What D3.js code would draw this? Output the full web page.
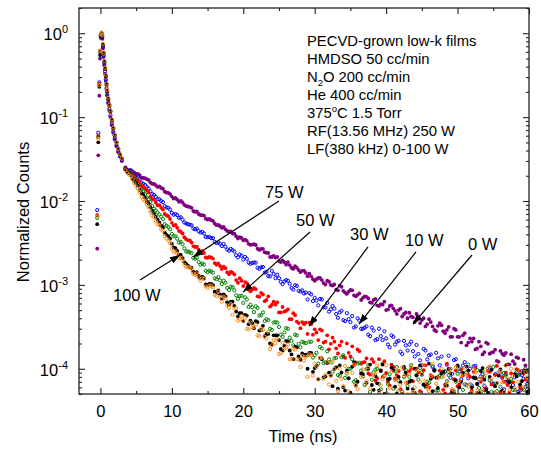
<!DOCTYPE html>
<html lang="en">
<head>
<meta charset="utf-8">
<script src="https://cdnjs.cloudflare.com/ajax/libs/d3/7.8.5/d3.min.js"></script>
<style>
  body { margin: 0; background: #fff; }
  svg text { font-family: "Liberation Sans", Arial, sans-serif; fill: #000; }
  .axis path { display: none; }
  .axis line { stroke: #222; stroke-width: 1.1; }
</style>
</head>
<body>
<svg id="chart" width="541" height="450"></svg>
<script>

// sampling grid (ns): fine steps round the laser peak, then the tail
var peakTimes = [-0.45, -0.3, -0.15, -0.05, 0.05, 0.15, 0.25, 0.35, 0.45, 0.55, 0.65, 0.75,
                 0.85, 0.95, 1.1, 1.25, 1.4, 1.6, 1.8, 2.0, 2.25, 2.5, 2.75, 3.0];
var tailTimes = d3.range(3.5, 60.001, 0.5);
var times = peakTimes.concat(tailTimes);
// the in-between channels of the tail
var midTimes = d3.range(3.75, 60, 0.5);

// normalized counts, one list per LF power
var counts0W = [
  2.7e-3, 3.5e-2, 0.18, 0.5, 0.88, 0.95, 0.86, 0.66, 0.52, 0.41, 0.33, 0.27,
  0.21, 0.18, 0.145, 0.12, 0.10, 0.08, 0.065, 0.054, 0.045, 0.038, 0.034, 0.030,
  2.52e-2, 2.31e-2, 2.26e-2, 2.11e-2, 2.04e-2, 1.88e-2, 1.82e-2, 1.66e-2, 1.60e-2, 1.47e-2,
  1.43e-2, 1.29e-2, 1.25e-2, 1.13e-2, 1.09e-2, 9.8e-3, 9.6e-3, 8.7e-3, 8.5e-3, 7.6e-3,
  7.5e-3, 6.8e-3, 6.7e-3, 6.0e-3, 5.9e-3, 5.4e-3, 5.2e-3, 4.8e-3, 4.6e-3, 4.3e-3,
  4.1e-3, 3.8e-3, 3.7e-3, 3.4e-3, 3.35e-3, 3.0e-3, 3.05e-3, 2.7e-3, 2.68e-3, 2.45e-3,
  2.4e-3, 2.15e-3, 2.12e-3, 1.92e-3, 1.96e-3, 1.74e-3, 1.72e-3, 1.55e-3, 1.6e-3, 1.42e-3,
  1.48e-3, 1.27e-3, 1.26e-3, 1.12e-3, 1.21e-3, 1.14e-3, 1.01e-3, 1.09e-3, 9.8e-4, 8.8e-4,
  9.8e-4, 8.5e-4, 7.8e-4, 8.7e-4, 7.5e-4, 7.6e-4, 6.6e-4, 7.3e-4, 6.9e-4, 6.1e-4,
  6.8e-4, 5.6e-4, 5.8e-4, 5.0e-4, 5.6e-4, 5.25e-4, 4.5e-4, 5.2e-4, 4.5e-4, 4.0e-4,
  4.2e-4, 3.6e-4, 4.2e-4, 3.8e-4, 3.2e-4, 3.9e-4, 3.2e-4, 2.8e-4, 3.5e-4, 2.8e-4,
  2.9e-4, 2.4e-4, 3.0e-4, 2.4e-4, 2.05e-4, 2.65e-4, 2.05e-4, 2.1e-4, 1.7e-4, 2.1e-4,
  1.48e-4, 2.05e-4, 1.51e-4, 1.58e-4, 1.24e-4, 1.63e-4, 1.45e-4, 1.13e-4, 1.49e-4, 1.14e-4,
  1.34e-4, 9.4e-5, 1.1e-4, 7.8e-5
];
var counts0WMid = [
  2.37e-2, 2.35e-2, 2.18e-2, 2.11e-2, 1.9e-2, 1.87e-2, 1.78e-2, 1.6e-2, 1.54e-2, 1.49e-2,
  1.40e-2, 1.26e-2, 1.21e-2, 1.07e-2, 1.04e-2, 1.0e-2, 8.98e-3, 8.6e-3, 8.3e-3, 7.4e-3,
  7.0e-3, 6.8e-3, 6.15e-3, 6.1e-3, 5.8e-3, 5.15e-3, 5.0e-3, 4.9e-3, 4.4e-3, 4.35e-3,
  4.08e-3, 3.57e-3, 3.62e-3, 3.47e-3, 3.09e-3, 3.02e-3, 2.99e-3, 2.61e-3, 2.69e-3, 2.41e-3,
  2.15e-3, 2.22e-3, 2.15e-3, 1.87e-3, 1.86e-3, 1.87e-3, 1.6e-3, 1.67e-3, 1.5e-3, 1.47e-3,
  1.39e-3, 1.36e-3, 1.17e-3, 1.17e-3, 1.21e-3, 1.05e-3, 1.12e-3, 1.0e-3, 1.01e-3, 8.6e-4,
  9.5e-4, 8.1e-4, 8.3e-4, 8.6e-4, 7.3e-4, 7.9e-4, 7.0e-4, 7.2e-4, 6.2e-4, 6.6e-4,
  5.7e-4, 5.9e-4, 6.3e-4, 5.1e-4, 5.7e-4, 4.9e-4, 5.0e-4, 4.2e-4, 4.7e-4, 4.65e-4,
  4.1e-4, 4.5e-4, 3.5e-4, 4.0e-4, 3.4e-4, 3.6e-4, 2.9e-4, 3.25e-4, 3.3e-4, 2.65e-4,
  3.15e-4, 2.4e-4, 2.9e-4, 2.4e-4, 2.5e-4, 1.9e-4, 2.3e-4, 2.3e-4, 1.75e-4, 1.85e-4,
  1.58e-4, 1.98e-4, 1.56e-4, 1.69e-4, 1.21e-4, 1.51e-4, 1.54e-4, 1.13e-4, 1.23e-4, 1.37e-4,
  9.0e-5, 1.28e-4, 9.5e-5
];
var counts10W = [
  7.8e-3, 6.5e-2, 0.26, 0.6, 0.92, 0.98, 0.88, 0.69, 0.54, 0.43, 0.35, 0.28,
  0.22, 0.185, 0.15, 0.125, 0.105, 0.084, 0.067, 0.056, 0.046, 0.039, 0.034, 0.031,
  2.43e-2, 2.3e-2, 2.1e-2, 1.98e-2, 1.83e-2, 1.6e-2, 1.47e-2, 1.3e-2, 1.18e-2, 1.05e-2,
  1.0e-2, 8.7e-3, 8.3e-3, 7.2e-3, 7.0e-3, 6.3e-3, 6.0e-3, 5.4e-3, 5.2e-3, 4.7e-3,
  4.7e-3, 4.2e-3, 4.1e-3, 3.7e-3, 3.6e-3, 3.25e-3, 3.2e-3, 2.9e-3, 2.85e-3, 2.55e-3,
  2.6e-3, 2.25e-3, 2.3e-3, 2.0e-3, 2.05e-3, 1.78e-3, 1.85e-3, 1.6e-3, 1.62e-3, 1.4e-3,
  1.28e-3, 1.47e-3, 1.2e-3, 1.2e-3, 1.02e-3, 1.14e-3, 1.03e-3, 8.8e-4, 9.7e-4, 8.3e-4,
  7.9e-4, 6.7e-4, 7.7e-4, 7.0e-4, 5.7e-4, 6.7e-4, 5.4e-4, 4.8e-4, 5.6e-4, 4.5e-4,
  4.7e-4, 3.8e-4, 4.6e-4, 3.6e-4, 3.1e-4, 4.0e-4, 3.0e-4, 3.1e-4, 2.55e-4, 3.1e-4,
  2.2e-4, 3.0e-4, 2.2e-4, 2.3e-4, 1.8e-4, 2.4e-4, 2.1e-4, 1.6e-4, 2.15e-4, 1.65e-4,
  2.1e-4, 1.4e-4, 1.5e-4, 1.1e-4, 1.65e-4, 1.45e-4, 1.05e-4, 1.55e-4, 1.1e-4, 8.8e-5,
  1.12e-4, 7.8e-5, 1.27e-4, 1.09e-4, 7.5e-5, 1.2e-4, 7.7e-5, 6.3e-5, 1.08e-4, 7.5e-5,
  8.6e-5, 5.8e-5, 1.03e-4, 6.6e-5, 4.9e-5, 9.0e-5, 5.7e-5, 6.6e-5, 4.4e-5, 7.9e-5,
  5.3e-5, 8.4e-5, 6.0e-5, 7.2e-5
];
var counts10WMid = [
  2.33e-2, 2.27e-2, 2.06e-2, 1.93e-2, 1.66e-2, 1.55e-2, 1.41e-2, 1.21e-2, 1.12e-2, 1.05e-2,
  9.7e-3, 8.4e-3, 7.9e-3, 6.85e-3, 6.8e-3, 6.4e-3, 5.55e-3, 5.3e-3, 5.15e-3, 4.6e-3,
  4.38e-3, 4.27e-3, 3.73e-3, 3.74e-3, 3.61e-3, 3.16e-3, 3.09e-3, 3.07e-3, 2.64e-3, 2.69e-3,
  2.5e-3, 2.13e-3, 2.22e-3, 2.15e-3, 1.84e-3, 1.82e-3, 1.84e-3, 1.55e-3, 1.63e-3, 1.43e-3,
  1.26e-3, 1.35e-3, 1.32e-3, 1.09e-3, 1.1e-3, 1.12e-3, 9.2e-4, 9.9e-4, 8.5e-4, 8.6e-4,
  8.1e-4, 8.0e-4, 6.4e-4, 6.5e-4, 6.8e-4, 5.4e-4, 6.1e-4, 5.1e-4, 5.2e-4, 4.05e-4,
  4.9e-4, 3.7e-4, 3.9e-4, 4.25e-4, 3.2e-4, 3.75e-4, 3.0e-4, 3.2e-4, 2.45e-4, 2.85e-4,
  2.25e-4, 2.45e-4, 2.8e-4, 1.95e-4, 2.5e-4, 1.95e-4, 2.15e-4, 1.5e-4, 1.9e-4, 1.95e-4,
  1.62e-4, 1.92e-4, 1.26e-4, 1.73e-4, 1.29e-4, 1.48e-4, 9.5e-5, 1.33e-4, 1.4e-4, 9.3e-5,
  1.43e-4, 8.7e-5, 1.3e-4, 9.3e-5, 1.09e-4, 6.4e-5, 1.0e-4, 1.07e-4, 6.6e-5, 8.1e-5,
  6.2e-5, 1.01e-4, 7.0e-5, 8.6e-5, 4.6e-5, 7.8e-5, 8.6e-5, 4.9e-5, 6.4e-5, 8.4e-5,
  5.5e-5, 7.6e-5, 6.6e-5
];
var counts30W = [
  6.8e-3, 6.0e-2, 0.25, 0.62, 0.95, 1.0, 0.92, 0.72, 0.57, 0.45, 0.37, 0.30,
  0.24, 0.20, 0.16, 0.135, 0.115, 0.09, 0.072, 0.06, 0.049, 0.041, 0.036, 0.032,
  2.42e-2, 2.21e-2, 2.06e-2, 1.83e-2, 1.68e-2, 1.46e-2, 1.34e-2, 1.13e-2, 1.04e-2, 8.9e-3,
  8.3e-3, 7.0e-3, 6.6e-3, 5.5e-3, 5.2e-3, 4.4e-3, 4.1e-3, 3.5e-3, 3.4e-3, 2.9e-3,
  2.85e-3, 2.45e-3, 2.4e-3, 2.1e-3, 2.12e-3, 1.82e-3, 1.8e-3, 1.55e-3, 1.58e-3, 1.34e-3,
  1.4e-3, 1.14e-3, 1.2e-3, 9.7e-4, 1.05e-3, 8.4e-4, 9.2e-4, 7.3e-4, 8.0e-4, 6.4e-4,
  7.3e-4, 5.8e-4, 5.8e-4, 4.7e-4, 5.45e-4, 4.9e-4, 3.9e-4, 4.6e-4, 3.65e-4, 3.05e-4,
  3.4e-4, 2.6e-4, 3.4e-4, 2.95e-4, 2.2e-4, 2.85e-4, 2.1e-4, 1.7e-4, 2.35e-4, 1.75e-4,
  1.9e-4, 1.4e-4, 2.0e-4, 1.4e-4, 1.1e-4, 1.7e-4, 1.15e-4, 1.2e-4, 8.8e-5, 1.3e-4,
  7.2e-5, 1.3e-4, 8.0e-5, 8.9e-5, 6.3e-5, 1.05e-4, 8.4e-5, 5.7e-5, 1.0e-4, 6.8e-5,
  1.0e-4, 5.2e-5, 9.0e-5, 4.6e-5, 1.1e-4, 6.0e-5, 8.0e-5, 4.8e-5, 9.5e-5, 5.6e-5,
  1.15e-4, 5.0e-5, 7.5e-5, 6.2e-5, 9.8e-5, 4.5e-5, 8.5e-5, 5.5e-5, 1.02e-4, 4.9e-5,
  7.8e-5, 5.8e-5, 9.2e-5, 4.7e-5, 1.08e-4, 5.3e-5, 7.0e-5, 6.4e-5, 8.8e-5, 4.4e-5,
  9.6e-5, 5.7e-5, 7.4e-5, 5.1e-5
];
var counts30WMid = [
  2.28e-2, 2.2e-2, 1.94e-2, 1.79e-2, 1.52e-2, 1.42e-2, 1.26e-2, 1.06e-2, 9.6e-3, 8.9e-3,
  7.9e-3, 6.75e-3, 6.1e-3, 5.1e-3, 4.8e-3, 4.3e-3, 3.7e-3, 3.4e-3, 3.2e-3, 2.83e-3,
  2.63e-3, 2.52e-3, 2.12e-3, 2.16e-3, 2.06e-3, 1.74e-3, 1.68e-3, 1.65e-3, 1.41e-3, 1.43e-3,
  1.33e-3, 1.06e-3, 1.12e-3, 1.08e-3, 8.8e-4, 8.8e-4, 8.9e-4, 7.2e-4, 7.7e-4, 6.6e-4,
  5.5e-4, 6.3e-4, 6.2e-4, 4.7e-4, 4.8e-4, 5.1e-4, 3.9e-4, 4.35e-4, 3.5e-4, 3.6e-4,
  3.55e-4, 3.55e-4, 2.55e-4, 2.7e-4, 2.95e-4, 2.05e-4, 2.5e-4, 1.98e-4, 2.1e-4, 1.52e-4,
  2.1e-4, 1.35e-4, 1.55e-4, 1.85e-4, 1.19e-4, 1.62e-4, 1.19e-4, 1.33e-4, 8.5e-5, 1.2e-4,
  7.7e-5, 9.6e-5, 1.23e-4, 7.0e-5, 1.12e-4, 7.6e-5, 9.4e-5, 5.0e-5, 8.5e-5, 9.3e-5,
  7.1e-5, 1.0e-4, 5.4e-5, 9.6e-5, 6.5e-5, 8.4e-5, 4.3e-5, 8.0e-5, 9.2e-5, 5.1e-5,
  1.0e-4, 5.5e-5, 9.5e-5, 6.5e-5, 8.3e-5, 4.4e-5, 8.0e-5, 9.2e-5, 5.2e-5, 7.0e-5,
  5.5e-5, 9.4e-5, 6.5e-5, 8.4e-5, 4.3e-5, 8.0e-5, 9.0e-5, 5.2e-5, 6.9e-5, 9.9e-5,
  6.0e-5, 8.8e-5, 5.3e-5
];
var counts50W = [
  6.3e-3, 5.8e-2, 0.24, 0.6, 0.96, 1.0, 0.93, 0.73, 0.58, 0.46, 0.38, 0.31,
  0.245, 0.20, 0.165, 0.138, 0.117, 0.092, 0.073, 0.061, 0.05, 0.042, 0.036, 0.032,
  2.37e-2, 2.21e-2, 1.93e-2, 1.76e-2, 1.49e-2, 1.31e-2, 1.1e-2, 9.7e-3, 8.1e-3, 7.3e-3,
  6.5e-3, 5.3e-3, 4.9e-3, 4.05e-3, 3.8e-3, 3.2e-3, 3.05e-3, 2.5e-3, 2.45e-3, 2.1e-3,
  2.1e-3, 1.74e-3, 1.75e-3, 1.42e-3, 1.45e-3, 1.2e-3, 1.24e-3, 1.02e-3, 1.06e-3, 8.7e-4,
  9.4e-4, 7.5e-4, 7.4e-4, 6.1e-4, 6.7e-4, 5.8e-4, 4.75e-4, 5.3e-4, 4.35e-4, 3.7e-4,
  3.8e-4, 2.9e-4, 3.6e-4, 3.15e-4, 2.4e-4, 3.05e-4, 2.35e-4, 1.9e-4, 2.5e-4, 1.8e-4,
  2.05e-4, 1.45e-4, 2.1e-4, 1.45e-4, 1.15e-4, 1.75e-4, 1.2e-4, 1.29e-4, 9.2e-5, 1.35e-4,
  8.2e-5, 1.45e-4, 8.8e-5, 1.0e-4, 7.0e-5, 1.15e-4, 9.5e-5, 6.4e-5, 1.1e-4, 7.4e-5,
  9.8e-5, 6.6e-5, 1.15e-4, 4.9e-5, 8.6e-5, 5.8e-5, 1.05e-4, 4.7e-5, 8.0e-5, 6.2e-5,
  1.1e-4, 5.1e-5, 7.4e-5, 9.1e-5, 4.6e-5, 6.8e-5, 1.08e-4, 5.5e-5, 8.3e-5, 4.8e-5,
  7.1e-5, 1.0e-4, 5.3e-5, 8.7e-5, 4.5e-5, 6.5e-5, 1.12e-4, 5.0e-5, 7.8e-5, 5.9e-5,
  9.4e-5, 4.7e-5, 7.3e-5, 1.05e-4, 5.4e-5, 6.1e-5, 8.9e-5, 4.6e-5, 7.6e-5, 5.6e-5,
  8.4e-5, 4.9e-5, 1.0e-4, 6.3e-5
];
var counts50WMid = [
  2.25e-2, 2.13e-2, 1.83e-2, 1.64e-2, 1.36e-2, 1.21e-2, 1.05e-2, 8.7e-3, 7.7e-3, 6.9e-3,
  6.1e-3, 5.05e-3, 4.6e-3, 3.8e-3, 3.55e-3, 3.25e-3, 2.72e-3, 2.5e-3, 2.39e-3, 2.05e-3,
  1.87e-3, 1.8e-3, 1.47e-3, 1.48e-3, 1.4e-3, 1.17e-3, 1.13e-3, 1.12e-3, 9.2e-4, 9.5e-4,
  8.6e-4, 6.8e-4, 7.4e-4, 7.1e-4, 5.45e-4, 5.4e-4, 5.55e-4, 4.3e-4, 4.7e-4, 3.9e-4,
  3.0e-4, 3.55e-4, 3.55e-4, 2.55e-4, 2.7e-4, 3.0e-4, 2.15e-4, 2.55e-4, 1.98e-4, 2.1e-4,
  2.02e-4, 2.1e-4, 1.36e-4, 1.55e-4, 1.82e-4, 1.17e-4, 1.62e-4, 1.19e-4, 1.33e-4, 8.4e-5,
  1.37e-4, 7.8e-5, 1.0e-4, 1.3e-4, 7.3e-5, 1.18e-4, 8.1e-5, 9.9e-5, 5.3e-5, 9.1e-5,
  1.0e-4, 5.7e-5, 8.3e-5, 6.6e-5, 4.5e-5, 9.3e-5, 7.2e-5, 5.3e-5, 9.6e-5, 8.0e-5,
  5.2e-5, 8.4e-5, 1.02e-4, 6.4e-5, 7.0e-5, 4.6e-5, 9.7e-5, 5.5e-5, 8.0e-5, 9.2e-5,
  8.4e-5, 4.7e-5, 7.0e-5, 1.0e-4, 5.6e-5, 9.1e-5, 6.5e-5, 7.8e-5, 9.6e-5, 5.3e-5,
  7.9e-5, 1.0e-4, 5.3e-5, 6.6e-5, 9.0e-5, 4.5e-5, 8.3e-5, 7.0e-5, 5.6e-5, 9.5e-5,
  8.6e-5, 5.6e-5, 6.3e-5
];
var counts75W = [
  5.3e-3, 5.0e-2, 0.23, 0.55, 0.94, 0.99, 0.93, 0.73, 0.58, 0.46, 0.38, 0.31,
  0.25, 0.205, 0.165, 0.14, 0.118, 0.093, 0.074, 0.061, 0.05, 0.042, 0.036, 0.032,
  2.38e-2, 2.16e-2, 1.84e-2, 1.64e-2, 1.36e-2, 1.19e-2, 9.8e-3, 8.4e-3, 7.0e-3, 6.0e-3,
  5.1e-3, 4.2e-3, 3.8e-3, 3.1e-3, 2.75e-3, 2.3e-3, 2.08e-3, 1.78e-3, 1.62e-3, 1.44e-3,
  1.42e-3, 1.2e-3, 1.2e-3, 1.0e-3, 1.03e-3, 8.3e-4, 8.6e-4, 6.9e-4, 7.3e-4, 5.8e-4,
  6.3e-4, 4.8e-4, 4.6e-4, 3.7e-4, 4.3e-4, 3.75e-4, 3.05e-4, 3.6e-4, 2.9e-4, 2.45e-4,
  2.6e-4, 1.95e-4, 2.5e-4, 2.2e-4, 1.65e-4, 2.15e-4, 1.65e-4, 1.3e-4, 1.8e-4, 1.28e-4,
  1.45e-4, 1.0e-4, 1.55e-4, 1.02e-4, 7.5e-5, 1.3e-4, 8.1e-5, 9.0e-5, 6.2e-5, 1.04e-4,
  1.1e-4, 6.0e-5, 9.5e-5, 5.2e-5, 1.2e-4, 7.0e-5, 8.8e-5, 4.8e-5, 1.0e-4, 6.4e-5,
  8.2e-5, 5.5e-5, 1.12e-4, 4.6e-5, 7.6e-5, 9.6e-5, 5.1e-5, 6.9e-5, 1.05e-4, 5.8e-5,
  7.2e-5, 1.0e-4, 4.9e-5, 8.5e-5, 6.1e-5, 1.15e-4, 5.4e-5, 7.8e-5, 4.7e-5, 9.2e-5,
  6.3e-5, 8.8e-5, 5.0e-5, 1.08e-4, 7.0e-5, 4.8e-5, 9.5e-5, 6.0e-5, 7.7e-5, 5.2e-5,
  1.02e-4, 5.6e-5, 8.0e-5, 4.5e-5, 6.7e-5, 9.8e-5, 5.3e-5, 7.3e-5, 6.0e-5, 8.6e-5,
  5.0e-5, 7.1e-5, 9.3e-5, 5.5e-5
];
var counts75WMid = [
  2.23e-2, 2.05e-2, 1.73e-2, 1.52e-2, 1.24e-2, 1.09e-2, 9.3e-3, 7.6e-3, 6.5e-3, 5.55e-3,
  4.8e-3, 3.95e-3, 3.55e-3, 2.8e-3, 2.55e-3, 2.28e-3, 1.86e-3, 1.7e-3, 1.6e-3, 1.37e-3,
  1.28e-3, 1.25e-3, 1.01e-3, 1.03e-3, 9.9e-4, 8.0e-4, 7.7e-4, 7.7e-4, 6.2e-4, 6.3e-4,
  5.6e-4, 4.2e-4, 4.6e-4, 4.4e-4, 3.4e-4, 3.5e-4, 3.7e-4, 2.85e-4, 3.25e-4, 2.6e-4,
  2.0e-4, 2.5e-4, 2.5e-4, 1.72e-4, 1.87e-4, 2.12e-4, 1.48e-4, 1.84e-4, 1.4e-4, 1.52e-4,
  1.47e-4, 1.54e-4, 9.2e-5, 1.09e-4, 1.34e-4, 7.9e-5, 1.17e-4, 8.3e-5, 9.9e-5, 5.8e-5,
  9.0e-5, 5.5e-5, 7.7e-5, 1.06e-4, 6.3e-5, 4.9e-5, 8.6e-5, 6.8e-5, 1.12e-4, 5.6e-5,
  6.7e-5, 9.4e-5, 5.0e-5, 7.5e-5, 1.03e-4, 6.1e-5, 8.0e-5, 4.7e-5, 9.0e-5, 7.0e-5,
  5.7e-5, 8.3e-5, 1.1e-4, 6.5e-5, 4.8e-5, 7.6e-5, 9.6e-5, 5.9e-5, 8.8e-5, 6.4e-5,
  9.9e-5, 5.4e-5, 7.3e-5, 6.0e-5, 8.9e-5, 1.06e-4, 5.1e-5, 7.9e-5, 6.6e-5, 9.4e-5,
  7.4e-5, 5.2e-5, 9.7e-5, 6.2e-5, 8.3e-5, 5.5e-5, 1.1e-4, 6.9e-5, 4.9e-5, 8.1e-5,
  6.5e-5, 9.0e-5, 5.3e-5
];
var counts100W = [
  6.5e-3, 5.5e-2, 0.24, 0.62, 0.97, 1.02, 0.95, 0.75, 0.59, 0.47, 0.39, 0.32,
  0.25, 0.21, 0.17, 0.14, 0.12, 0.094, 0.075, 0.062, 0.05, 0.042, 0.036, 0.032,
  2.33e-2, 2.06e-2, 1.8e-2, 1.49e-2, 1.28e-2, 1.05e-2, 9.1e-3, 7.4e-3, 6.4e-3, 5.3e-3,
  4.6e-3, 3.8e-3, 3.4e-3, 2.7e-3, 2.5e-3, 2.08e-3, 1.95e-3, 1.64e-3, 1.6e-3, 1.36e-3,
  1.37e-3, 1.12e-3, 1.18e-3, 9.2e-4, 9.8e-4, 7.6e-4, 8.3e-4, 6.3e-4, 6.9e-4, 5.3e-4,
  4.4e-4, 5.3e-4, 3.9e-4, 3.7e-4, 3.0e-4, 3.55e-4, 3.15e-4, 2.5e-4, 3.0e-4, 2.4e-4,
  2.75e-4, 1.9e-4, 2.0e-4, 1.5e-4, 2.05e-4, 1.77e-4, 1.3e-4, 1.75e-4, 1.3e-4, 1.05e-4,
  1.25e-4, 8.0e-5, 1.45e-4, 1.15e-4, 7.5e-5, 1.35e-4, 8.5e-5, 6.5e-5, 1.2e-4, 7.2e-5,
  1.0e-4, 6.2e-5, 8.9e-5, 4.8e-5, 1.12e-4, 5.7e-5, 8.0e-5, 6.6e-5, 1.04e-4, 4.6e-5,
  9.0e-5, 5.3e-5, 7.5e-5, 1.1e-4, 5.9e-5, 4.7e-5, 9.7e-5, 6.4e-5, 8.2e-5, 5.0e-5,
  1.06e-4, 6.0e-5, 4.8e-5, 8.7e-5, 7.2e-5, 5.4e-5, 1.15e-4, 6.6e-5, 5.1e-5, 8.1e-5,
  6.9e-5, 9.9e-5, 5.5e-5, 4.6e-5, 8.4e-5, 1.03e-4, 6.1e-5, 5.2e-5, 9.0e-5, 7.4e-5,
  5.6e-5, 8.8e-5, 1.07e-4, 4.9e-5, 6.8e-5, 9.4e-5, 5.3e-5, 7.7e-5, 1.0e-4, 5.8e-5,
  7.0e-5, 4.8e-5, 9.1e-5, 6.2e-5
];
var counts100WMid = [
  2.17e-2, 1.98e-2, 1.63e-2, 1.4e-2, 1.12e-2, 9.9e-3, 8.4e-3, 6.75e-3, 5.8e-3, 5.15e-3,
  4.4e-3, 3.56e-3, 3.13e-3, 2.49e-3, 2.35e-3, 2.1e-3, 1.74e-3, 1.62e-3, 1.55e-3, 1.31e-3,
  1.22e-3, 1.2e-3, 9.6e-4, 9.8e-4, 9.3e-4, 7.4e-4, 7.2e-4, 7.2e-4, 5.7e-4, 5.95e-4,
  5.2e-4, 3.75e-4, 4.25e-4, 4.05e-4, 2.95e-4, 3.1e-4, 3.35e-4, 2.45e-4, 2.9e-4, 2.3e-4,
  1.72e-4, 2.2e-4, 2.27e-4, 1.54e-4, 1.72e-4, 1.95e-4, 1.3e-4, 1.69e-4, 1.29e-4, 1.42e-4,
  1.39e-4, 1.48e-4, 8.3e-5, 1.05e-4, 1.35e-4, 7.6e-5, 1.21e-4, 8.3e-5, 1.0e-4, 5.4e-5,
  7.6e-5, 1.08e-4, 5.4e-5, 8.9e-5, 6.4e-5, 4.6e-5, 9.8e-5, 7.1e-5, 5.8e-5, 8.4e-5,
  1.1e-4, 6.3e-5, 8.0e-5, 5.0e-5, 9.2e-5, 7.3e-5, 5.6e-5, 1.04e-4, 6.8e-5, 8.7e-5,
  5.3e-5, 9.5e-5, 7.0e-5, 1.12e-4, 5.9e-5, 8.1e-5, 4.9e-5, 7.7e-5, 1.0e-4, 6.2e-5,
  8.9e-5, 5.7e-5, 1.05e-4, 7.2e-5, 4.7e-5, 8.5e-5, 6.6e-5, 9.8e-5, 5.5e-5, 7.9e-5,
  6.4e-5, 1.0e-4, 7.5e-5, 5.2e-5, 9.1e-5, 6.9e-5, 1.1e-4, 5.6e-5, 8.2e-5, 4.8e-5,
  9.4e-5, 6.1e-5, 7.9e-5
];

var powerLabels = ["0 W", "10 W", "30 W", "50 W", "75 W", "100 W"];
var xTicks = [0, 10, 20, 30, 40, 50, 60];
var xMinorTicks = [5, 15, 25, 35, 45, 55];
var yDecades = [1e-4, 1e-3, 1e-2, 1e-1, 1];

// callouts in data space: label anchor, arrow tail, arrow head
var callouts = [
  {label: "0 W",   text: [51.46, 2.57e-3], from: [52.02, 2.27e-3], to: [43.76, 3.41e-4]},
  {label: "10 W",  text: [42.64, 2.87e-3], from: [44.18, 2.47e-3], to: [36.2, 3.41e-4]},
  {label: "30 W",  text: [34.94, 3.43e-3], from: [37.46, 2.83e-3], to: [29.2, 3.23e-4]},
  {label: "50 W",  text: [27.38, 5.03e-3], from: [29.34, 4.27e-3], to: [19.96, 8.2e-4]},
  {label: "75 W",  text: [23.04, 1.10e-2], from: [25.0, 1.0e-2],   to: [12.96, 2.15e-3]},
  {label: "100 W", text: [1.76, 6.34e-4],  from: [5.54, 1.14e-3],  to: [11.14, 2.27e-3]}
];

var notes = [
  [["PECVD-grown low-k films"]],
  [["HMDSO 50 cc/min"]],
  [["N"], ["2", "sub"], ["O 200 cc/min", "back-sub"]],
  [["He 400 cc/min"]],
  [["375"], ["o", "sup"], ["C 1.5 Torr", "back-sup"]],
  [["RF(13.56 MHz) 250 W"]],
  [["LF(380 kHz) 0-100 W"]]
];

// marker styles, drawn in this order
var styles = [
  {values: counts0W,   mid: counts0WMid,   color: "#800080", open: false},
  {values: counts10W,  mid: counts10WMid,  color: "#0000ff", open: true},
  {values: counts30W,  mid: counts30WMid,  color: "#ff0000", open: false},
  {values: counts50W,  mid: counts50WMid,  color: "#008000", open: true},
  {values: counts75W,  mid: counts75WMid,  color: "#000000", open: false},
  {values: counts100W, mid: counts100WMid, color: "#ff8c1a", open: true}
];

var margin = {top: 8, right: 12, bottom: 56, left: 79},
    width = 541 - margin.left - margin.right,
    height = 450 - margin.top - margin.bottom;

var x = d3.scaleLinear().domain([-3, 60]).range([0, width]),
    y = d3.scaleLog().domain([5e-5, 2]).range([height, 0]);

var svg = d3.select("#chart");
var defs = svg.append("defs");
var g = svg.append("g")
    .attr("transform", "translate(" + margin.left + "," + margin.top + ")");

defs.append("clipPath")
    .attr("id", "plot-clip")
  .append("rect")
    .attr("width", width)
    .attr("height", height);

defs.append("marker")
    .attr("id", "arrow")
    .attr("viewBox", "0 0 10 7")
    .attr("refX", 10)
    .attr("refY", 3.5)
    .attr("markerWidth", 10)
    .attr("markerHeight", 7)
    .attr("markerUnits", "userSpaceOnUse")
    .attr("orient", "auto")
  .append("path")
    .attr("d", "M0,0L10,3.5L0,7Z")
    .attr("fill", "#000");

// data points
var plot = g.append("g").attr("clip-path", "url(#plot-clip)");
styles.forEach(function(s) {
  var pts = times.map(function(t, i) { return {t: t, v: s.values[i]}; })
    .concat(midTimes.map(function(t, i) { return {t: t, v: s.mid[i]}; }))
    .filter(function(d) { return d.v >= 5e-5; });
  plot.append("g").selectAll("circle")
    .data(pts)
    .enter().append("circle")
      .attr("cx", function(d) { return x(d.t); })
      .attr("cy", function(d) { return y(d.v); })
      .attr("r", s.open ? 1.6 : 1.9)
      .attr("fill", s.open ? "none" : s.color)
      .attr("stroke", s.open ? s.color : "none")
      .attr("stroke-width", 1);
});

// axes: inward ticks on all four sides
var yMinor = y.ticks().filter(function(d) { return yDecades.indexOf(d) < 0; });

g.append("g").attr("class", "axis")
    .attr("transform", "translate(0," + height + ")")
    .call(d3.axisBottom(x).tickValues(xTicks).tickSize(-6).tickPadding(11))
    .selectAll("text")
      .attr("font-size", "16.5px")
      .attr("font-family", "Liberation Sans, Arial, sans-serif")
      .attr("fill", "#000");
g.append("g").attr("class", "axis")
    .attr("transform", "translate(0," + height + ")")
    .call(d3.axisBottom(x).tickValues(xMinorTicks).tickSize(-3).tickFormat(""));
g.append("g").attr("class", "axis")
    .call(d3.axisTop(x).tickValues(xTicks).tickSize(-6).tickFormat(""));
g.append("g").attr("class", "axis")
    .call(d3.axisTop(x).tickValues(xMinorTicks).tickSize(-3).tickFormat(""));

g.append("g").attr("class", "axis")
    .call(d3.axisLeft(y).tickValues(yDecades).tickSize(-6).tickFormat(""));
g.append("g").attr("class", "axis")
    .call(d3.axisLeft(y).tickValues(yMinor).tickSize(-3).tickFormat(""));
g.append("g").attr("class", "axis")
    .attr("transform", "translate(" + width + ",0)")
    .call(d3.axisRight(y).tickValues(yDecades).tickSize(-6).tickFormat(""));
g.append("g").attr("class", "axis")
    .attr("transform", "translate(" + width + ",0)")
    .call(d3.axisRight(y).tickValues(yMinor).tickSize(-3).tickFormat(""));

// y tick labels 10^n
var yLabels = g.append("g").selectAll("text")
    .data(yDecades)
  .enter().append("text")
    .attr("x", -11)
    .attr("y", function(d) { return y(d) + 7; })
    .attr("text-anchor", "end")
    .attr("font-size", "16.5px");
yLabels.append("tspan").text("10");
yLabels.append("tspan")
    .attr("dy", -7)
    .attr("font-size", "11px")
    .text(function(d) { return String(Math.round(Math.log10(d))); });

// frame
g.append("rect")
    .attr("width", width)
    .attr("height", height)
    .attr("fill", "none")
    .attr("stroke", "#222")
    .attr("stroke-width", 1.3);

// axis titles
g.append("text")
    .attr("x", width / 2 - 1)
    .attr("y", height + 48)
    .attr("text-anchor", "middle")
    .attr("font-size", "16.5px")
    .text("Time (ns)");
g.append("text")
    .attr("transform", "translate(" + (28.5 - margin.left) + "," + (212 - margin.top) + ") rotate(-90)")
    .attr("text-anchor", "middle")
    .attr("font-size", "16.5px")
    .text("Normalized Counts");

// callouts
callouts.forEach(function(c) {
  g.append("line")
      .attr("x1", x(c.from[0])).attr("y1", y(c.from[1]))
      .attr("x2", x(c.to[0])).attr("y2", y(c.to[1]))
      .attr("stroke", "#000")
      .attr("stroke-width", 1.2)
      .attr("marker-end", "url(#arrow)");
  g.append("text")
      .attr("x", x(c.text[0]))
      .attr("y", y(c.text[1]))
      .attr("font-size", "16.5px")
      .text(c.label);
});

// process conditions
var noteText = g.append("g")
    .attr("transform", "translate(" + (307 - margin.left) + "," + (45.5 - margin.top) + ")");
notes.forEach(function(parts, i) {
  var t = noteText.append("text")
      .attr("y", i * 18.1)
      .attr("font-size", "14.8px");
  parts.forEach(function(p) {
    var span = t.append("tspan").text(p[0]);
    if (p[1] === "sub") span.attr("font-size", "9.5px").attr("dy", 4);
    if (p[1] === "sup") span.attr("font-size", "9.5px").attr("dy", -6);
    if (p[1] === "back-sub") span.attr("dy", -4);
    if (p[1] === "back-sup") span.attr("dy", 6);
  });
});

</script>
</body>
</html>
